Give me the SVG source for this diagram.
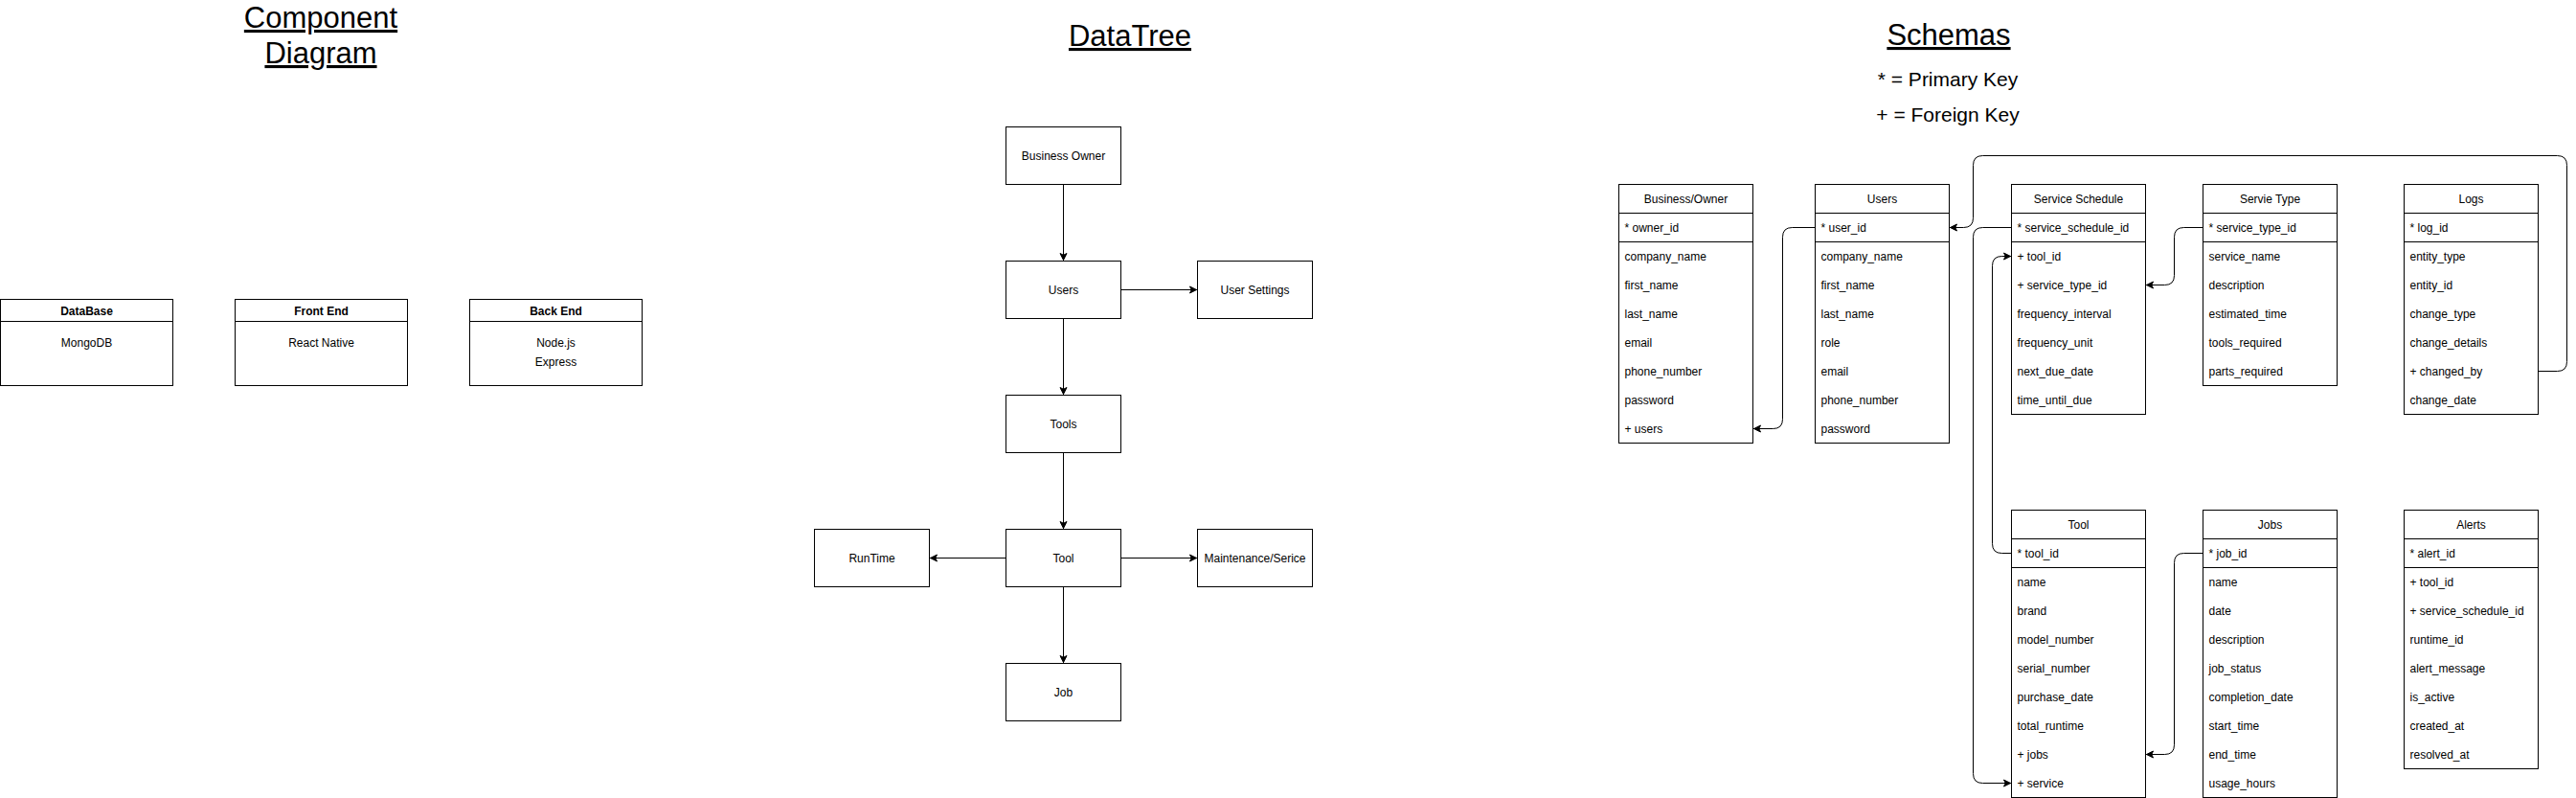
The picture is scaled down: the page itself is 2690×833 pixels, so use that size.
<svg xmlns="http://www.w3.org/2000/svg" width="2690" height="833" viewBox="0 0 2690 833">
<defs>
<style>
.box{fill:#fff;stroke:#000;stroke-width:1}
.ln{fill:none;stroke:#000;stroke-width:1}
.edge{fill:none;stroke:#000;stroke-width:1}
text{font-family:"Liberation Sans",Arial,Helvetica,sans-serif;font-size:12px;fill:#000}
.c{text-anchor:middle}
.b{font-weight:bold}
.title{font-size:31px;text-anchor:middle;text-decoration:underline}
.legend{font-size:21px;text-anchor:middle}
</style>
<marker id="arr" markerUnits="userSpaceOnUse" markerWidth="11" markerHeight="10" viewBox="-10 -5 11 10" refX="0" refY="0" orient="auto">
<path d="M-1,0 L-8,-3.5 L-6.25,0 L-8,3.5 Z" fill="#000" stroke="#000" stroke-width="1"/>
</marker>
</defs>
<rect x="0" y="0" width="2690" height="833" fill="#fff"/>

<g id="titles">
<text class="title" x="335" y="29">Component</text>
<text class="title" x="335" y="66">Diagram</text>
<text class="title" x="1180" y="48">DataTree</text>
<text class="title" x="2035" y="47">Schemas</text>
<text class="legend" x="2034" y="90">* = Primary Key</text>
<text class="legend" x="2034" y="127">+ = Foreign Key</text>
</g>

<g transform="translate(0.5,0.5)">
<!-- Component diagram -->
<g id="comp-database">
<rect class="box" x="0" y="312" width="180" height="90"/>
<line class="ln" x1="0" y1="335" x2="180" y2="335"/>
<text class="c b" x="90" y="328">DataBase</text>
<text class="c" x="90" y="361">MongoDB</text>
</g>
<g id="comp-frontend">
<rect class="box" x="245" y="312" width="180" height="90"/>
<line class="ln" x1="245" y1="335" x2="425" y2="335"/>
<text class="c b" x="335" y="328">Front End</text>
<text class="c" x="335" y="361">React Native</text>
</g>
<g id="comp-backend">
<rect class="box" x="490" y="312" width="180" height="90"/>
<line class="ln" x1="490" y1="335" x2="670" y2="335"/>
<text class="c b" x="580" y="328">Back End</text>
<text class="c" x="580" y="361">Node.js</text>
<text class="c" x="580" y="381">Express</text>
</g>

<!-- DataTree -->
<g id="dt-business-owner"><rect class="box" x="1050" y="132" width="120" height="60"/><text class="c" x="1110" y="166">Business Owner</text></g>
<g id="dt-users"><rect class="box" x="1050" y="272" width="120" height="60"/><text class="c" x="1110" y="306">Users</text></g>
<g id="dt-user-settings"><rect class="box" x="1250" y="272" width="120" height="60"/><text class="c" x="1310" y="306">User Settings</text></g>
<g id="dt-tools"><rect class="box" x="1050" y="412" width="120" height="60"/><text class="c" x="1110" y="446">Tools</text></g>
<g id="dt-tool"><rect class="box" x="1050" y="552" width="120" height="60"/><text class="c" x="1110" y="586">Tool</text></g>
<g id="dt-runtime"><rect class="box" x="850" y="552" width="120" height="60"/><text class="c" x="910" y="586">RunTime</text></g>
<g id="dt-maintenance"><rect class="box" x="1250" y="552" width="120" height="60"/><text class="c" x="1310" y="586">Maintenance/Serice</text></g>
<g id="dt-job"><rect class="box" x="1050" y="692" width="120" height="60"/><text class="c" x="1110" y="726">Job</text></g>

<!-- Schemas -->
<g id="tbl-business-owner">
<rect class="box" x="1690" y="192" width="140" height="270"/>
<line class="ln" x1="1690" y1="222" x2="1830" y2="222"/>
<line class="ln" x1="1690" y1="252" x2="1830" y2="252"/>
<text class="c" x="1760" y="211">Business/Owner</text>
<text x="1696" y="241">* owner_id</text>
<text x="1696" y="271">company_name</text>
<text x="1696" y="301">first_name</text>
<text x="1696" y="331">last_name</text>
<text x="1696" y="361">email</text>
<text x="1696" y="391">phone_number</text>
<text x="1696" y="421">password</text>
<text x="1696" y="451">+ users</text>
</g>
<g id="tbl-users">
<rect class="box" x="1895" y="192" width="140" height="270"/>
<line class="ln" x1="1895" y1="222" x2="2035" y2="222"/>
<line class="ln" x1="1895" y1="252" x2="2035" y2="252"/>
<text class="c" x="1965" y="211">Users</text>
<text x="1901" y="241">* user_id</text>
<text x="1901" y="271">company_name</text>
<text x="1901" y="301">first_name</text>
<text x="1901" y="331">last_name</text>
<text x="1901" y="361">role</text>
<text x="1901" y="391">email</text>
<text x="1901" y="421">phone_number</text>
<text x="1901" y="451">password</text>
</g>
<g id="tbl-service-schedule">
<rect class="box" x="2100" y="192" width="140" height="240"/>
<line class="ln" x1="2100" y1="222" x2="2240" y2="222"/>
<line class="ln" x1="2100" y1="252" x2="2240" y2="252"/>
<text class="c" x="2170" y="211">Service Schedule</text>
<text x="2106" y="241">* service_schedule_id</text>
<text x="2106" y="271">+ tool_id</text>
<text x="2106" y="301">+ service_type_id</text>
<text x="2106" y="331">frequency_interval</text>
<text x="2106" y="361">frequency_unit</text>
<text x="2106" y="391">next_due_date</text>
<text x="2106" y="421">time_until_due</text>
</g>
<g id="tbl-service-type">
<rect class="box" x="2300" y="192" width="140" height="210"/>
<line class="ln" x1="2300" y1="222" x2="2440" y2="222"/>
<line class="ln" x1="2300" y1="252" x2="2440" y2="252"/>
<text class="c" x="2370" y="211">Servie Type</text>
<text x="2306" y="241">* service_type_id</text>
<text x="2306" y="271">service_name</text>
<text x="2306" y="301">description</text>
<text x="2306" y="331">estimated_time</text>
<text x="2306" y="361">tools_required</text>
<text x="2306" y="391">parts_required</text>
</g>
<g id="tbl-logs">
<rect class="box" x="2510" y="192" width="140" height="240"/>
<line class="ln" x1="2510" y1="222" x2="2650" y2="222"/>
<line class="ln" x1="2510" y1="252" x2="2650" y2="252"/>
<text class="c" x="2580" y="211">Logs</text>
<text x="2516" y="241">* log_id</text>
<text x="2516" y="271">entity_type</text>
<text x="2516" y="301">entity_id</text>
<text x="2516" y="331">change_type</text>
<text x="2516" y="361">change_details</text>
<text x="2516" y="391">+ changed_by</text>
<text x="2516" y="421">change_date</text>
</g>
<g id="tbl-tool">
<rect class="box" x="2100" y="532" width="140" height="300"/>
<line class="ln" x1="2100" y1="562" x2="2240" y2="562"/>
<line class="ln" x1="2100" y1="592" x2="2240" y2="592"/>
<text class="c" x="2170" y="551">Tool</text>
<text x="2106" y="581">* tool_id</text>
<text x="2106" y="611">name</text>
<text x="2106" y="641">brand</text>
<text x="2106" y="671">model_number</text>
<text x="2106" y="701">serial_number</text>
<text x="2106" y="731">purchase_date</text>
<text x="2106" y="761">total_runtime</text>
<text x="2106" y="791">+ jobs</text>
<text x="2106" y="821">+ service</text>
</g>
<g id="tbl-jobs">
<rect class="box" x="2300" y="532" width="140" height="300"/>
<line class="ln" x1="2300" y1="562" x2="2440" y2="562"/>
<line class="ln" x1="2300" y1="592" x2="2440" y2="592"/>
<text class="c" x="2370" y="551">Jobs</text>
<text x="2306" y="581">* job_id</text>
<text x="2306" y="611">name</text>
<text x="2306" y="641">date</text>
<text x="2306" y="671">description</text>
<text x="2306" y="701">job_status</text>
<text x="2306" y="731">completion_date</text>
<text x="2306" y="761">start_time</text>
<text x="2306" y="791">end_time</text>
<text x="2306" y="821">usage_hours</text>
</g>
<g id="tbl-alerts">
<rect class="box" x="2510" y="532" width="140" height="270"/>
<line class="ln" x1="2510" y1="562" x2="2650" y2="562"/>
<line class="ln" x1="2510" y1="592" x2="2650" y2="592"/>
<text class="c" x="2580" y="551">Alerts</text>
<text x="2516" y="581">* alert_id</text>
<text x="2516" y="611">+ tool_id</text>
<text x="2516" y="641">+ service_schedule_id</text>
<text x="2516" y="671">runtime_id</text>
<text x="2516" y="701">alert_message</text>
<text x="2516" y="731">is_active</text>
<text x="2516" y="761">created_at</text>
<text x="2516" y="791">resolved_at</text>
</g>

<!-- Connectors -->
<g id="connectors">
<path class="edge" marker-end="url(#arr)" d="M1110,192 L1110,272"/>
<path class="edge" marker-end="url(#arr)" d="M1170,302 L1250,302"/>
<path class="edge" marker-end="url(#arr)" d="M1110,332 L1110,412"/>
<path class="edge" marker-end="url(#arr)" d="M1110,472 L1110,552"/>
<path class="edge" marker-end="url(#arr)" d="M1050,582 L970,582"/>
<path class="edge" marker-end="url(#arr)" d="M1170,582 L1250,582"/>
<path class="edge" marker-end="url(#arr)" d="M1110,612 L1110,692"/>

<path class="edge" marker-end="url(#arr)" d="M1895,237 L1871,237 Q1861,237 1861,247 L1861,437 Q1861,447 1851,447 L1830,447"/>
<path class="edge" marker-end="url(#arr)" d="M2650,387 L2670,387 Q2680,387 2680,377 L2680,172 Q2680,162 2670,162 L2070,162 Q2060,162 2060,172 L2060,227 Q2060,237 2050,237 L2035,237"/>
<path class="edge" marker-end="url(#arr)" d="M2100,237 L2070,237 Q2060,237 2060,247 L2060,807 Q2060,817 2070,817 L2100,817"/>
<path class="edge" marker-end="url(#arr)" d="M2100,577 L2090,577 Q2080,577 2080,567 L2080,277 Q2080,267 2090,267 L2100,267"/>
<path class="edge" marker-end="url(#arr)" d="M2300,237 L2280,237 Q2270,237 2270,247 L2270,287 Q2270,297 2260,297 L2240,297"/>
<path class="edge" marker-end="url(#arr)" d="M2300,577 L2280,577 Q2270,577 2270,587 L2270,777 Q2270,787 2260,787 L2240,787"/>
</g>
</g>
</svg>
